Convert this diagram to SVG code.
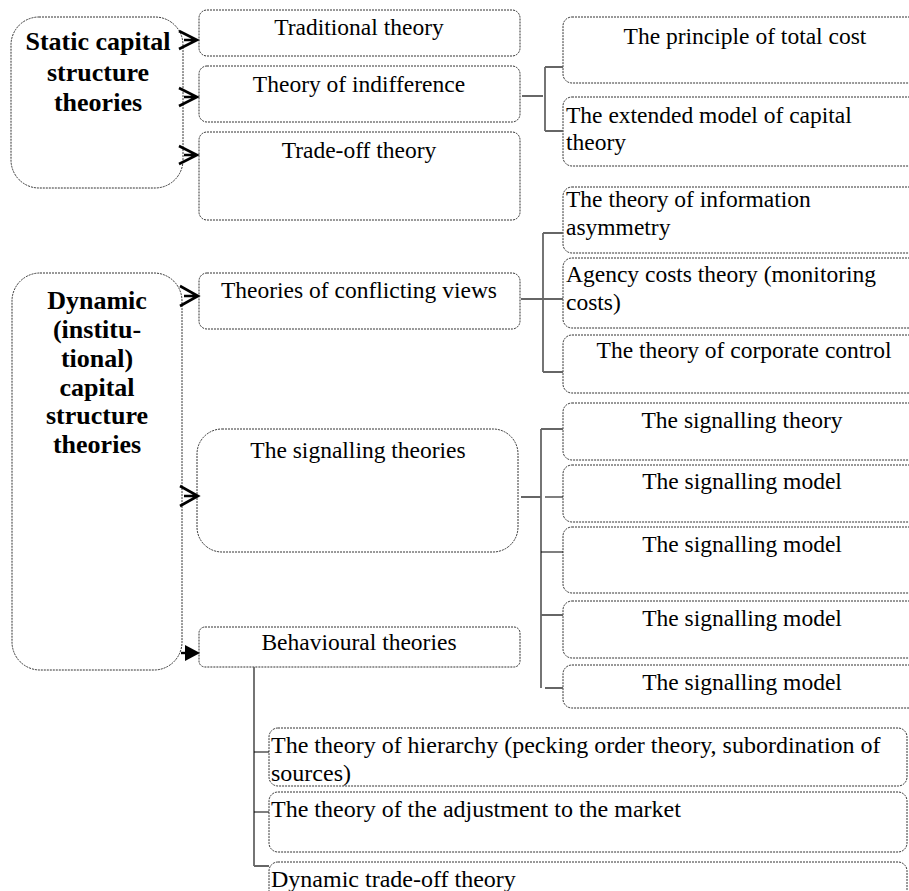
<svg xmlns="http://www.w3.org/2000/svg" width="909" height="891" viewBox="0 0 909 891">
<defs>
<style>
.box{fill:#fff;stroke:#333;stroke-width:1;stroke-dasharray:2 1}
.t{font-family:"Liberation Serif","Times New Roman",serif;font-size:23.5px;fill:#000}
.s{font-size:24px}
.c{text-anchor:middle}
.b{font-family:"Liberation Serif","Times New Roman",serif;font-size:26px;font-weight:bold;fill:#000;text-anchor:middle}
.g{stroke:#666;stroke-width:1.8;fill:none}
.k{stroke:#000;stroke-width:1.2;fill:none}
.ar{stroke:#000;stroke-width:2.6;fill:none;stroke-linejoin:miter}
</style>
</defs>
<rect width="909" height="891" fill="#fff"/>

<g id="static">
<rect class="box" x="11" y="17" width="172" height="171" rx="28"/>
<text class="b" x="98" y="50">Static capital</text>
<text class="b" x="98" y="81">structure</text>
<text class="b" x="98" y="111">theories</text>
</g>
<g id="dynamic">
<rect class="box" x="12" y="273" width="170" height="397" rx="28"/>
<text class="b" x="97" y="309">Dynamic</text>
<text class="b" x="97" y="338">(institu-</text>
<text class="b" x="97" y="367">tional)</text>
<text class="b" x="97" y="396">capital</text>
<text class="b" x="97" y="424">structure</text>
<text class="b" x="97" y="453">theories</text>
</g>

<g id="traditional"><rect class="box" x="199" y="10" width="321" height="46" rx="8"/><text class="t c" x="359" y="35">Traditional theory</text></g>
<g id="indifference"><rect class="box" x="199" y="66" width="321" height="56" rx="8"/><text class="t c" x="359" y="92">Theory of indifference</text></g>
<g id="tradeoff"><rect class="box" x="199" y="132" width="321" height="88" rx="8"/><text class="t c" x="359" y="158">Trade-off theory</text></g>
<g id="conflicting"><rect class="box" x="199" y="273" width="321" height="56" rx="8"/><text class="t c" x="359" y="298">Theories of conflicting views</text></g>
<g id="signalling"><rect class="box" x="197" y="429" width="321" height="123" rx="25"/><text class="t c" x="358" y="458">The signalling theories</text></g>
<g id="behavioural"><rect class="box" x="199" y="627" width="321" height="40" rx="6"/><text class="t c" x="359" y="650">Behavioural theories</text></g>

<g id="principle"><rect class="box" x="563" y="17" width="370" height="66" rx="9"/><text class="t c" x="745" y="44">The principle of total cost</text></g>
<g id="extended"><rect class="box" x="563" y="97" width="370" height="69" rx="9"/><text class="t" x="566" y="123">The extended model of capital</text><text class="t" x="566" y="150">theory</text></g>
<g id="information"><rect class="box" x="563" y="187" width="370" height="66" rx="9"/><text class="t" x="566" y="207">The theory of information</text><text class="t" x="566" y="235">asymmetry</text></g>
<g id="agency"><rect class="box" x="563" y="258" width="370" height="70" rx="9"/><text class="t" x="566" y="282">Agency costs theory (monitoring</text><text class="t" x="566" y="310">costs)</text></g>
<g id="corporate"><rect class="box" x="563" y="335" width="370" height="58" rx="9"/><text class="t c" x="744" y="358">The theory of corporate control</text></g>
<g id="sig-theory"><rect class="box" x="563" y="403" width="370" height="57" rx="9"/><text class="t c" x="742" y="428">The signalling theory</text></g>
<g id="sig-model1"><rect class="box" x="563" y="465" width="370" height="57" rx="9"/><text class="t c" x="742" y="489">The signalling model</text></g>
<g id="sig-model2"><rect class="box" x="563" y="527" width="370" height="66" rx="9"/><text class="t c" x="742" y="552">The signalling model</text></g>
<g id="sig-model3"><rect class="box" x="563" y="601" width="370" height="57" rx="9"/><text class="t c" x="742" y="626">The signalling model</text></g>
<g id="sig-model4"><rect class="box" x="563" y="665" width="370" height="43" rx="9"/><text class="t c" x="742" y="690">The signalling model</text></g>

<g id="hierarchy"><rect class="box" x="269" y="728" width="638" height="58" rx="9"/><text class="t s" x="271" y="753">The theory of hierarchy (pecking order theory, subordination of</text><text class="t s" x="271" y="781">sources)</text></g>
<g id="adjustment"><rect class="box" x="269" y="792" width="638" height="60" rx="9"/><text class="t s" x="271" y="817">The theory of the adjustment to the market</text></g>
<g id="dyn-tradeoff"><rect class="box" x="269" y="862" width="638" height="40" rx="9"/><text class="t s" x="271" y="887">Dynamic trade-off theory</text></g>

<g id="connectors">
<path class="ar" d="M179,31 L197,40 L179,49 M184,40 L197,40"/>
<path class="ar" d="M179,88 L197,97 L179,106 M184,97 L197,97"/>
<path class="ar" d="M179,146 L197,155 L179,164 M184,155 L197,155"/>
<path class="ar" d="M180,286 L198,296 L180,306 M184,296 L198,296"/>
<path class="ar" d="M180,486 L198,496 L180,506 M184,496 L197,496"/>
<path d="M181,653 L188,653" stroke="#000" stroke-width="2.4"/>
<polygon points="185,645 200,653 185,661" fill="#000"/>

<path class="k" d="M522,96 L543,96"/>
<path class="g" d="M545,67 L545,131 M545,67 L563,67 M545,131 L563,131"/>

<path class="g" d="M521,299 L563,299 M543,233 L543,372 M543,233 L563,233 M543,372 L563,372"/>

<path class="g" d="M521,497 L541,497 M541,429 L541,688 M541,429 L563,429 M541,615 L563,615 M545,688 L563,688"/>
<path class="k" d="M545,497 L563,497 M541,552 L563,552"/>

<path class="g" d="M254,667 L254,866 M254,866 L269,866"/>
<path class="k" d="M254,752 L269,752 M254,812 L269,812"/>
</g>
</svg>
